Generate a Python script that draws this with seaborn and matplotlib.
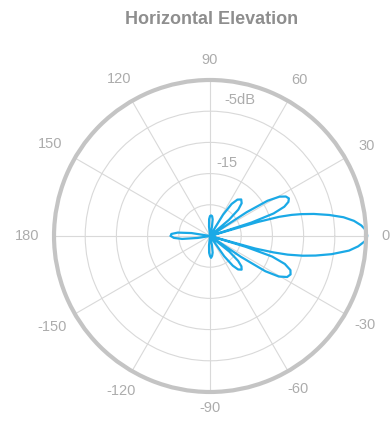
import numpy as np
import pandas as pd
import matplotlib
matplotlib.use("Agg")
import matplotlib.pyplot as plt
import matplotlib.transforms as mtransforms
import seaborn as sns

# Horizontal radiation pattern (degrees, dB relative to peak)
angle_deg = [
    -180, -177, -174, -171, -169,
    -98, -96, -93, -90, -87.3, -84, -81, -78, -76,
    -56.5, -55, -52.5, -50, -46.8, -44, -41.5, -39, -37.5,
    -35, -34, -32.5, -30.5, -28, -25.5, -23, -20.5, -18.3, -16.9,
    -16.2, -15.5, -14.5, -13.5, -12, -10.5, -8.5, -6, -4, -2,
    0,
    2, 4, 6, 8, 10, 12, 13.5, 14.5, 15.5, 16.3, 17,
    18, 19.5, 21.5, 23.5, 25.5, 27.5, 29.5, 31.5, 33, 34,
    39, 40.5, 43, 46, 49.5, 53, 56, 58.5, 60,
    76, 78, 81, 84, 87, 90, 93, 96, 98,
    169, 171, 174, 177, 180,
]
gain_db = [
    -18.7, -19.2, -20.5, -23.0, -25,
    -25, -23.5, -22.3, -21.8, -21.5, -21.8, -22.3, -23.5, -25,
    -25, -21.0, -19.0, -18.0, -17.6, -18.0, -19.0, -21.0, -25,
    -25, -19.0, -14.5, -12.2, -11.0, -10.7, -11.0, -12.2, -14.5, -19.0,
    -25, -17.5, -14.5, -12.2, -9.8, -7.8, -5.3, -2.6, -1.2, -0.2,
    0.2,
    0.05, -0.7, -1.8, -3.4, -5.6, -8.0, -10.0, -11.5, -13.5, -17.0, -25,
    -18.0, -14.2, -12.2, -11.3, -11.0, -11.3, -12.2, -14.2, -18.0, -25,
    -25, -21.0, -18.8, -17.7, -17.3, -17.7, -18.8, -21.0, -25,
    -25, -23.5, -22.3, -21.8, -21.7, -21.8, -22.3, -23.5, -25,
    -25, -22.0, -19.8, -18.8, -18.7,
]

theta_ticks = [0, 30, 60, 90, 120, 150, 180, -150, -120, -90, -60, -30]
theta_labels = ["0", "30", "60", "90", "120", "150", "180",
                "-150", "-120", "-90", "-60", "-30"]
ring_levels = [-20, -15, -10, -5]
ring_text = {-5: "-5dB", -15: "-15"}
r_min, r_max = -25, 0

sns.set_theme(style="white")
plt.rcParams["font.family"] = ["Liberation Sans", "DejaVu Sans"]

LABEL_GRAY = "#acacac"
fig = plt.figure(figsize=(3.92, 4.23), dpi=100)
ax = fig.add_axes([0.1378, 0.0733, 0.7959, 0.7376], projection="polar")

df = pd.DataFrame({"theta": np.deg2rad(angle_deg), "gain": gain_db})
sns.lineplot(data=df, x="theta", y="gain", ax=ax, color="#1aa9e6",
             linewidth=1.6, sort=False, estimator=None, clip_on=False)

ax.set_ylim(r_min, r_max)
ax.set_yticks(ring_levels)
ax.set_yticklabels([])
ax.set_xticks(np.deg2rad(np.arange(0, 360, 30)))
ax.set_xticklabels([])
ax.set_xlabel("")
ax.set_ylabel("")
ax.tick_params(length=0)
ax.grid(True, color="#d9d9d9", linewidth=0.8)
ax.spines["polar"].set_color("#c4c4c4")
ax.spines["polar"].set_linewidth(3)

# dB ring labels just right of the 90 degree spoke
for lvl, txt in ring_text.items():
    dx = 14 if lvl == -5 else 6
    ax.text(np.pi / 2, lvl, txt, ha="left", va="bottom", fontsize=10.5,
            color=LABEL_GRAY,
            transform=ax.transData + mtransforms.Affine2D().translate(dx, 4))

# angle labels around the rim, pushed out by their own extent
fig.canvas.draw()
renderer = fig.canvas.get_renderer()
cx, cy = ax.transData.transform((0, r_min))
bb = ax.get_window_extent(renderer)
R = bb.width / 2
gap = 15
for ang, lab in zip(theta_ticks, theta_labels):
    t = fig.text(0, 0, lab, ha="center", va="center", fontsize=10.5,
                 color=LABEL_GRAY, transform=mtransforms.IdentityTransform())
    ext = t.get_window_extent(renderer)
    a = np.deg2rad(ang)
    d = R + gap + 0.5 * (abs(np.cos(a)) * ext.width + abs(np.sin(a)) * ext.height * 0.75)
    if np.sin(a) < -0.1:
        d -= 4
    t.set_position((cx + d * np.cos(a), cy + d * np.sin(a)))

fig.text(0.54, 1 - 20 / 423, "Horizontal Elevation", ha="center", va="center",
         fontsize=13, fontweight="bold", color="#8e8e8e")

fig.savefig("out.png", dpi=100)
